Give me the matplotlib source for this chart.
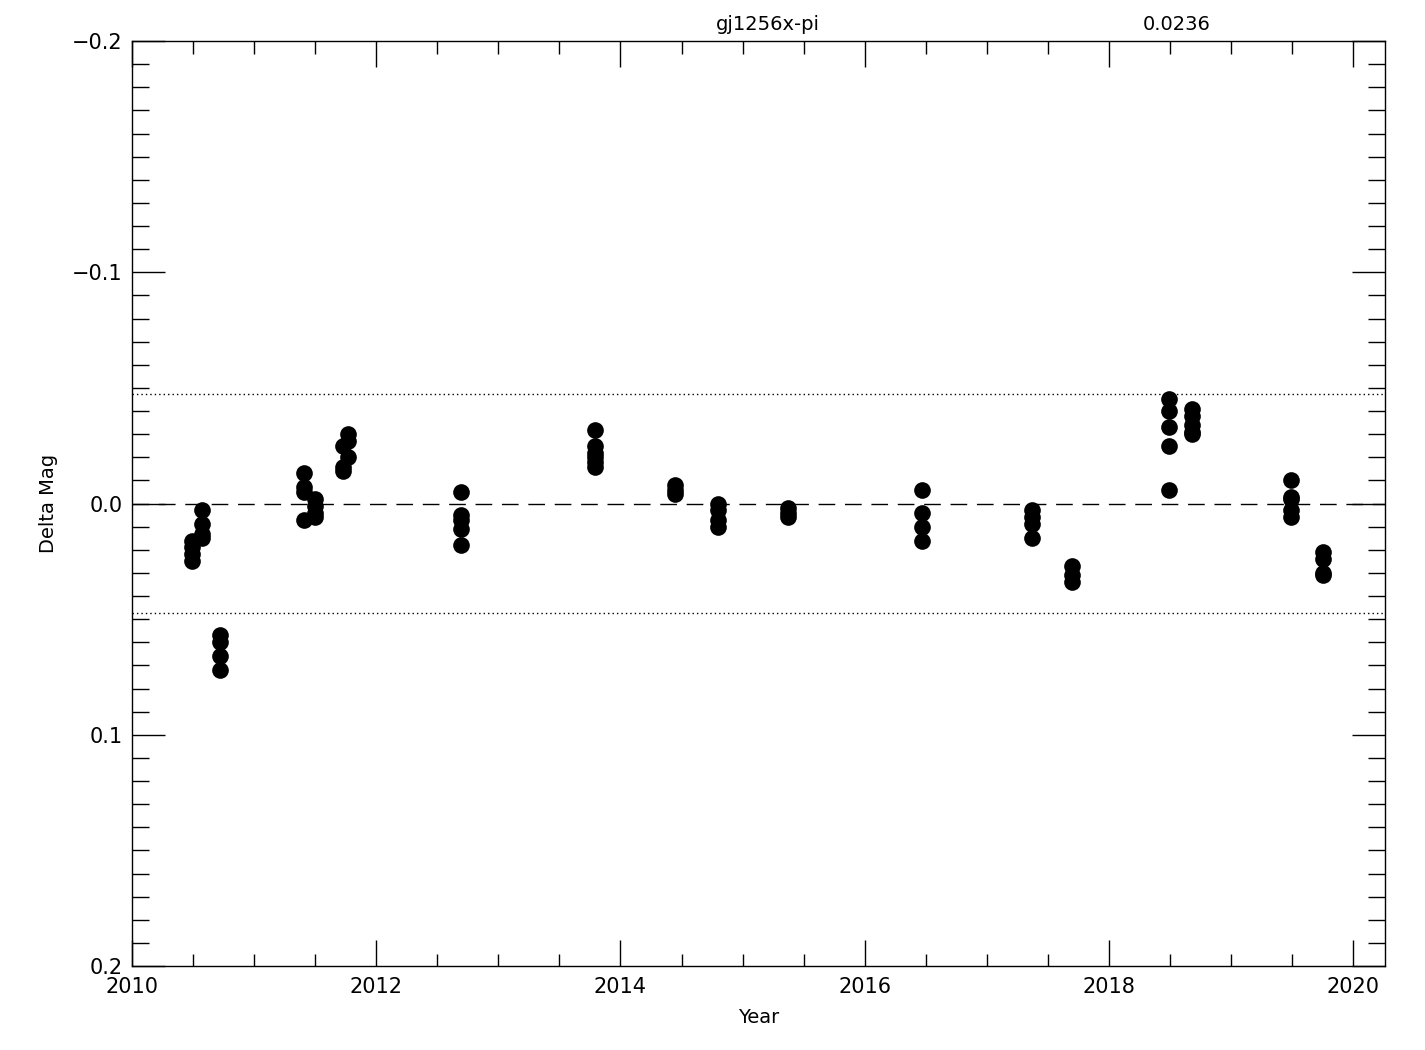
import matplotlib
matplotlib.use('Agg')
import matplotlib.pyplot as plt
from matplotlib.ticker import MultipleLocator
import numpy as np

# epochs (year) and delta mag for each observation
year = [2010.49] * 4 + [2010.57] * 4 + [2010.72] * 4 \
    + [2011.41] * 4 + [2011.50] * 4 + [2011.73] * 3 + [2011.77] * 3 \
    + [2012.69] * 5 + [2013.79] * 6 + [2014.45] * 3 + [2014.80] * 4 \
    + [2015.37] * 3 + [2016.47] * 4 + [2017.37] * 4 + [2017.70] * 3 \
    + [2018.49] * 5 + [2018.68] * 5 + [2019.49] * 5 + [2019.75] * 4
dmag = [0.016, 0.019, 0.022, 0.025,
        0.003, 0.009, 0.013, 0.015,
        0.057, 0.060, 0.066, 0.072,
        -0.013, -0.007, -0.005, 0.007,
        -0.002, 0.001, 0.004, 0.006,
        -0.025, -0.016, -0.014,
        -0.030, -0.027, -0.020,
        -0.005, 0.005, 0.007, 0.011, 0.018,
        -0.032, -0.025, -0.022, -0.020, -0.018, -0.016,
        -0.008, -0.006, -0.004,
        0.000, 0.003, 0.007, 0.010,
        0.002, 0.004, 0.006,
        -0.006, 0.004, 0.010, 0.016,
        0.003, 0.006, 0.009, 0.015,
        0.027, 0.031, 0.034,
        -0.045, -0.040, -0.033, -0.025, -0.006,
        -0.041, -0.038, -0.034, -0.031, -0.030,
        -0.010, -0.003, -0.002, 0.003, 0.006,
        0.021, 0.024, 0.030, 0.031]
name = 'gj1256x-pi'
sigma = 0.0236

plt.rcParams['font.family'] = 'DejaVu Sans'
fig = plt.figure(figsize=(14.25, 10.5), dpi=100)
ax = fig.add_axes([132 / 1425, 1 - 966 / 1050, 1253 / 1425, 925 / 1050])

ax.plot(year, dmag, 'o', color='black', markersize=12, markeredgewidth=0)
ax.axhline(0, color='black', linestyle=(0, (12, 7)), linewidth=1)
ax.axhline(2 * sigma, color='black', linestyle=(0, (1, 2.2)), linewidth=1)
ax.axhline(-2 * sigma, color='black', linestyle=(0, (1, 2.2)), linewidth=1)

ax.set_xlim(2010, 2020.26)
ax.set_ylim(0.2, -0.2)
ax.xaxis.set_major_locator(MultipleLocator(2))
ax.xaxis.set_minor_locator(MultipleLocator(0.5))
ax.yaxis.set_major_locator(MultipleLocator(0.1))
ax.yaxis.set_minor_locator(MultipleLocator(0.01))
ax.yaxis.set_major_formatter(plt.FuncFormatter(
    lambda v, p: ('%.1f' % v).replace('-', '\u2212') if abs(v) > 1e-9 else '0.0'))
ax.tick_params(which='both', direction='in', top=True, right=True,
               labelsize=15, width=1, pad=8)
ax.tick_params(which='major', axis='y', pad=7)
ax.tick_params(which='major', axis='x', length=19)
ax.tick_params(which='minor', axis='x', length=9)
ax.tick_params(which='major', axis='y', length=24)
ax.tick_params(which='minor', axis='y', length=12)
for sp in ax.spines.values():
    sp.set_linewidth(1)

ax.set_xlabel('Year', fontsize=14, labelpad=8)
ax.set_ylabel('Delta Mag', fontsize=14, labelpad=10)
fig.text(768 / 1425, 1 - 25 / 1050, name, ha='center', va='center', fontsize=14)
fig.text(1177 / 1425, 1 - 25 / 1050, '%.4f' % sigma, ha='center', va='center', fontsize=14)

fig.savefig('out.png', dpi=100)
